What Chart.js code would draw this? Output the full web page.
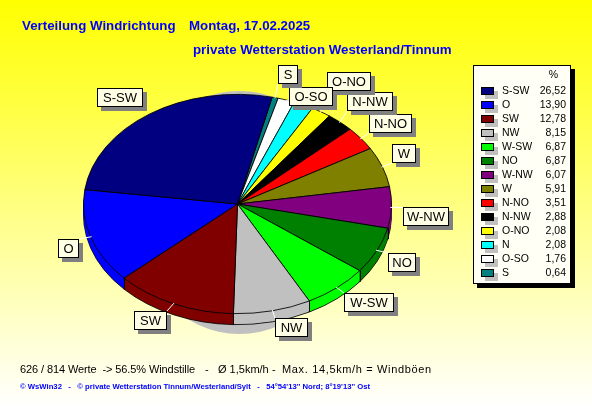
<!DOCTYPE html>
<html><head><meta charset="utf-8">
<script src="https://cdn.jsdelivr.net/npm/chart.js@4/dist/chart.umd.js"></script>
<style>html,body{margin:0;padding:0;background:#fff}canvas{display:block}</style>
</head><body>
<canvas id="c" width="592" height="407"></canvas>
<script>
// legend order (descending)
const legendNames = ["S-SW","O","SW","NW","W-SW","NO","W-NW","W","N-NO","N-NW","O-NO","N","O-SO","S"];
const legendValues = [26.52,13.90,12.78,8.15,6.87,6.87,6.07,5.91,3.51,2.88,2.08,2.08,1.76,0.64];
const legendColors = ["#000080","#0000ff","#800000","#c0c0c0","#00ff00","#008000","#800080","#808000","#ff0000","#000000","#ffff00","#00ffff","#ffffff","#008080"];
// the pie runs clockwise from the smallest slice
const categories = legendNames.slice().reverse();
const values = legendValues.slice().reverse();
const colors = legendColors.slice().reverse();
// callout boxes: left, top, width, height
const callouts = {
  "S":[278,65,20,19],"O-NO":[327,72,44,19],"O-SO":[289,87,44,19],"N-NW":[347,92,46,19],
  "N-NO":[369,114,43,19],"W":[392,144,24,19],"W-NW":[403,207,46,19],"NO":[388,253,28,19],
  "W-SW":[344,293,50,19],"NW":[275,318,33,19],"SW":[134,311,33,19],"O":[58,239,21,19],"S-SW":[97,88,46,19]
};
const calloutOrder = ["S-SW","O","SW","NW","W-SW","NO","W-NW","W","N-NO","N-NW","O-NO","O-SO","S"];
const titleParts = [["Verteilung Windrichtung",22],["Montag, 17.02.2025",189]];
const subtitleText = "private Wetterstation Westerland/Tinnum";
const footerParts = [["626 / 814 Werte  -> 56.5% Windstille",20,"-0.1px"],["-",205,"0px"],["Ø 1,5km/h",218,"0px"],["-",272,"0px"],["Max. 14,5km/h = Windböen",282,"0.65px"]];
const creditText = "© WsWin32   -   © private Wetterstation Tinnum/Westerland/Sylt   -   54°54'13'' Nord; 8°19'13'' Ost";

const SQUASH = 0.712, DEPTH = 11;
const fmt = v => v.toFixed(2).replace(".", ",");

function squash(ctx, chart, dy){
  const a = chart.getDatasetMeta(0).data[0];
  ctx.translate(a.x, a.y + (dy||0)); ctx.scale(1, SQUASH); ctx.translate(-a.x, -a.y);
}
const pie3d = {
  id:"pie3d",
  beforeDraw(chart){
    const {ctx,width,height} = chart;
    const g = ctx.createLinearGradient(0,0,0,height);
    g.addColorStop(0,"#ffff00"); g.addColorStop(1,"#ffffff");
    ctx.fillStyle = g; ctx.fillRect(0,0,width,height);
  },
  beforeDatasetsDraw(chart){
    const {ctx} = chart;
    const arcs = chart.getDatasetMeta(0).data;
    const a0 = arcs[0], R = a0.outerRadius;
    // grey cast shadow
    ctx.save();
    ctx.fillStyle = "#c0c0c0";
    ctx.beginPath();
    ctx.ellipse(a0.x+2, a0.y+8.5, 108, 121.5, 0, 0, Math.PI*2);
    ctx.fill();
    ctx.restore();
    // side wall, stacked copies of the library's arcs
    for(let d = DEPTH; d >= 1; d--){
      ctx.save(); squash(ctx, chart, d);
      arcs.forEach(arc=>{
        const keep = arc.options;
        arc.options = Object.assign({}, keep, d===DEPTH ? {} : {borderWidth:0});
        arc.draw(ctx);
        arc.options = keep;
      });
      ctx.restore();
    }
    // vertical seams on the visible wall
    ctx.save(); ctx.strokeStyle="#000"; ctx.lineWidth=1;
    arcs.forEach(arc=>{
      const s = Math.sin(arc.startAngle);
      if(s>0){
        const x = Math.round(arc.x+R*Math.cos(arc.startAngle))+.5, y = arc.y+R*SQUASH*s;
        ctx.beginPath(); ctx.moveTo(x,y); ctx.lineTo(x,y+DEPTH); ctx.stroke();
      }
    });
    ctx.restore();
    ctx.save(); squash(ctx, chart, 0);
  },
  afterDatasetsDraw(chart){
    const {ctx} = chart;
    ctx.restore();
    const arcs = chart.getDatasetMeta(0).data;
    ctx.textBaseline = "middle";
    // leader lines
    ctx.strokeStyle="#ffffff"; ctx.lineWidth=1;
    calloutOrder.forEach(name=>{
      if(name==="S-SW") return;
      const arc = arcs[categories.indexOf(name)], b = callouts[name];
      const m = (arc.startAngle+arc.endAngle)/2;
      const ex = arc.x+(arc.outerRadius-1)*Math.cos(m), ey = arc.y+(arc.outerRadius-1)*SQUASH*Math.sin(m);
      const tx = Math.max(b[0],Math.min(b[0]+b[2],ex)), ty = Math.max(b[1],Math.min(b[1]+b[3],ey));
      ctx.beginPath(); ctx.moveTo(ex,ey); ctx.lineTo(tx,ty); ctx.stroke();
    });
    // callout boxes
    ctx.font = "13px 'Liberation Sans'"; ctx.textAlign="center";
    calloutOrder.forEach(name=>{
      const [x,y,w,h] = callouts[name];
      ctx.fillStyle="#808080"; ctx.fillRect(x+4,y+4,w,h);
      ctx.fillStyle="#ffffe6"; ctx.strokeStyle="#000";
      ctx.fillRect(x,y,w,h); ctx.strokeRect(x+.5,y+.5,w-1,h-1);
      ctx.fillStyle="#000"; ctx.fillText(name,x+w/2,y+h/2+1);
    });
    // legend
    ctx.fillStyle="#000"; ctx.fillRect(477,69,98,219);
    ctx.fillStyle="#fffff5"; ctx.fillRect(473,65,98,219);
    ctx.strokeStyle="#000"; ctx.strokeRect(473.5,65.5,97,218);
    ctx.font="10.5px 'Liberation Sans'";
    ctx.fillStyle="#000"; ctx.textAlign="right"; ctx.fillText("%",558,75);
    legendNames.forEach((name,i)=>{
      const y = 87+i*14;
      ctx.fillStyle="#c0c0c0"; ctx.fillRect(485,y+4,13,8);
      ctx.fillStyle=legendColors[i]; ctx.fillRect(481,y,13,8);
      ctx.strokeStyle="#000"; ctx.strokeRect(481.5,y+.5,12,7);
      ctx.fillStyle="#000"; ctx.textAlign="left"; ctx.fillText(name,502,y+4);
      ctx.textAlign="right"; ctx.fillText(fmt(legendValues[i]),566,y+4);
    });
    // texts
    ctx.textAlign="left"; ctx.textBaseline="alphabetic";
    ctx.fillStyle="#0000ff"; ctx.font="bold 13.3px 'Liberation Sans'";
    titleParts.forEach(([t,x])=>ctx.fillText(t,x,30));
    ctx.fillText(subtitleText,193,54);
    ctx.fillStyle="#000"; ctx.font="11px 'Liberation Sans'";
    footerParts.forEach(([t,x,ls])=>{ ctx.letterSpacing=ls; ctx.fillText(t,x,373); });
    ctx.letterSpacing="0px";
    ctx.fillStyle="#0000ff"; ctx.font="bold 7.7px 'Liberation Sans'";
    ctx.fillText(creditText,20,389);
  }
};
new Chart(document.getElementById("c"),{
  type:"pie",
  data:{labels:categories,datasets:[{data:values,backgroundColor:colors,borderColor:"#000",borderWidth:1,borderAlign:"center"}]},
  options:{
    responsive:false,animation:false,
    rotation:13,
    layout:{padding:{left:83,top:49.5,right:200,bottom:48.5}},
    plugins:{legend:{display:false},tooltip:{enabled:false},title:{display:false}}
  },
  plugins:[pie3d]
});
</script>
</body></html>
